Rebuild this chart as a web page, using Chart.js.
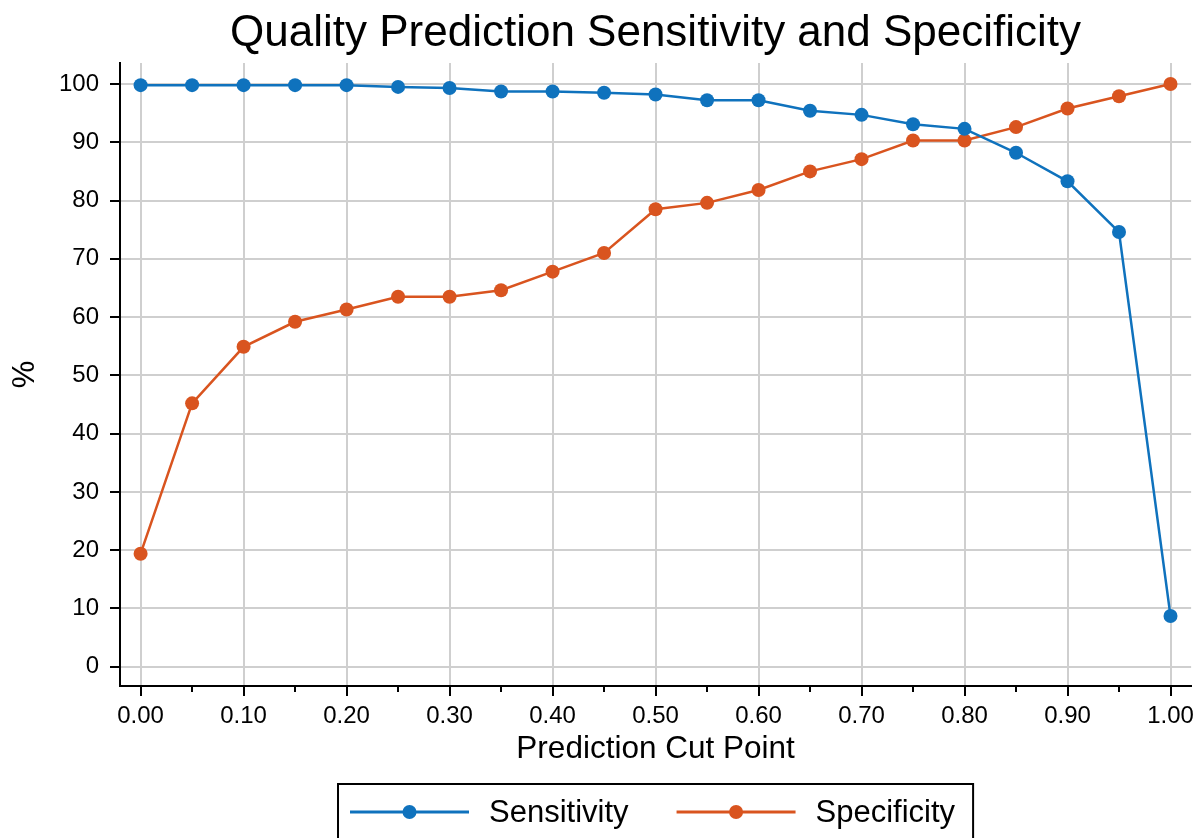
<!DOCTYPE html>
<html><head><meta charset="utf-8">
<script src="https://cdn.jsdelivr.net/npm/chart.js@4"></script>
<style>html,body{margin:0;padding:0;background:#fff}</style>
</head><body>
<canvas id="c" width="1200" height="838"></canvas>
<script>
const titleText = 'Quality Prediction Sensitivity and Specificity';
const xTitle = 'Prediction Cut Point';
const yTitle = '%';
const seriesNames = ['Sensitivity', 'Specificity'];
const cutPoints = [0.00,0.05,0.10,0.15,0.20,0.25,0.30,0.35,0.40,0.45,0.50,0.55,0.60,0.65,0.70,0.75,0.80,0.85,0.90,0.95,1.00];
const sensitivity = [99.8,99.8,99.8,99.8,99.8,99.5,99.3,98.7,98.7,98.5,98.2,97.2,97.2,95.4,94.7,93.1,92.3,88.2,83.3,74.6,8.7];
const specificity = [19.4,45.2,54.9,59.2,61.3,63.5,63.5,64.6,67.8,71.0,78.5,79.6,81.8,85.0,87.1,90.3,90.3,92.6,95.8,97.9,100.0];
const xMajorTicks = [0,0.1,0.2,0.3,0.4,0.5,0.6,0.7,0.8,0.9,1.0];
const xTickLabels = ['0.00','0.10','0.20','0.30','0.40','0.50','0.60','0.70','0.80','0.90','1.00'];
const xMinorTicks = [0.05,0.15,0.25,0.35,0.45,0.55,0.65,0.75,0.85,0.95];
const yTicks = [0,10,20,30,40,50,60,70,80,90,100];
const colors = ['#0F72BD', '#D9541F'];
const FONT = '"Liberation Sans", Arial, sans-serif';

Chart.defaults.font.family = FONT;
Chart.defaults.color = '#000';

const decor = {
  id: 'decor',
  afterDraw(chart) {
    const {ctx, chartArea: a, scales: {x}} = chart;
    ctx.save();
    // minor x ticks
    ctx.strokeStyle = '#000'; ctx.lineWidth = 2;
    xMinorTicks.forEach(v => {
      const px = Math.round(x.getPixelForValue(v));
      ctx.beginPath(); ctx.moveTo(px, a.bottom); ctx.lineTo(px, a.bottom + 6); ctx.stroke();
    });
    const cx = (a.left + a.right) / 2;
    // title
    ctx.fillStyle = '#000';
    ctx.font = '44px ' + FONT;
    ctx.textAlign = 'center'; ctx.textBaseline = 'alphabetic';
    ctx.fillText(titleText, cx, 46);
    // legend
    ctx.font = '31px ' + FONT;
    const lineLen = 119, gapText = 20, gapItem = 48, padL = 12, padR = 18;
    const w = seriesNames.map(n => ctx.measureText(n).width);
    const total = padL + lineLen + gapText + w[0] + gapItem + lineLen + gapText + w[1] + padR;
    const left = cx - total / 2;
    const top = 784, ly = 812;
    ctx.strokeStyle = '#000'; ctx.lineWidth = 2;
    ctx.strokeRect(left, top, total, 70);
    let xp = left + padL;
    seriesNames.forEach((n, i) => {
      ctx.strokeStyle = colors[i]; ctx.lineWidth = 3;
      ctx.beginPath(); ctx.moveTo(xp, ly); ctx.lineTo(xp + lineLen, ly); ctx.stroke();
      ctx.fillStyle = colors[i];
      ctx.beginPath(); ctx.arc(xp + lineLen / 2, ly, 7, 0, Math.PI * 2); ctx.fill();
      ctx.fillStyle = '#000'; ctx.textAlign = 'left'; ctx.textBaseline = 'middle';
      ctx.fillText(n, xp + lineLen + gapText, ly + 1);
      xp += lineLen + gapText + w[i] + gapItem;
    });
    ctx.restore();
  }
};

new Chart(document.getElementById('c'), {
  type: 'line',
  data: {
    datasets: [sensitivity, specificity].map((vals, i) => ({
      label: seriesNames[i],
      data: cutPoints.map((c, j) => ({x: c, y: vals[j]})),
      borderColor: colors[i],
      backgroundColor: colors[i],
      borderWidth: 2.5,
      pointRadius: 7,
      pointBorderWidth: 0,
      pointHoverRadius: 7,
      tension: 0,
      fill: false
    }))
  },
  options: {
    responsive: false,
    animation: false,
    devicePixelRatio: 1,
    layout: {padding: {top: 63, right: 7, bottom: 70, left: 0}},
    plugins: {legend: {display: false}, title: {display: false}, tooltip: {enabled: false}},
    scales: {
      x: {
        type: 'linear', min: -0.02, max: 1.02,
        afterBuildTicks: s => { s.ticks = xMajorTicks.map(v => ({value: v})); },
        afterFit: s => { s.height = 82; },
        ticks: {autoSkip: false, maxRotation: 0, padding: 6, font: {size: 24},
                callback: (v, i) => xTickLabels[i]},
        grid: {color: '#cfcfcf', lineWidth: 2, tickColor: '#000', tickLength: 10, tickWidth: 2},
        border: {color: '#000', width: 2},
        title: {display: true, text: xTitle, font: {size: 31.5}, padding: 0}
      },
      y: {
        type: 'linear', min: -3.3, max: 103.6,
        afterBuildTicks: s => { s.ticks = yTicks.map(v => ({value: v})); },
        afterFit: s => { s.width = 120; },
        ticks: {padding: 11, font: {size: 24}, callback: v => String(v)},
        grid: {color: '#cfcfcf', lineWidth: 2, tickColor: '#000', tickLength: 10, tickWidth: 2},
        border: {color: '#000', width: 2},
        title: {display: true, text: yTitle, font: {size: 31}, padding: {top: 7, bottom: 0}}
      }
    }
  },
  plugins: [decor]
});
</script>
</body></html>
